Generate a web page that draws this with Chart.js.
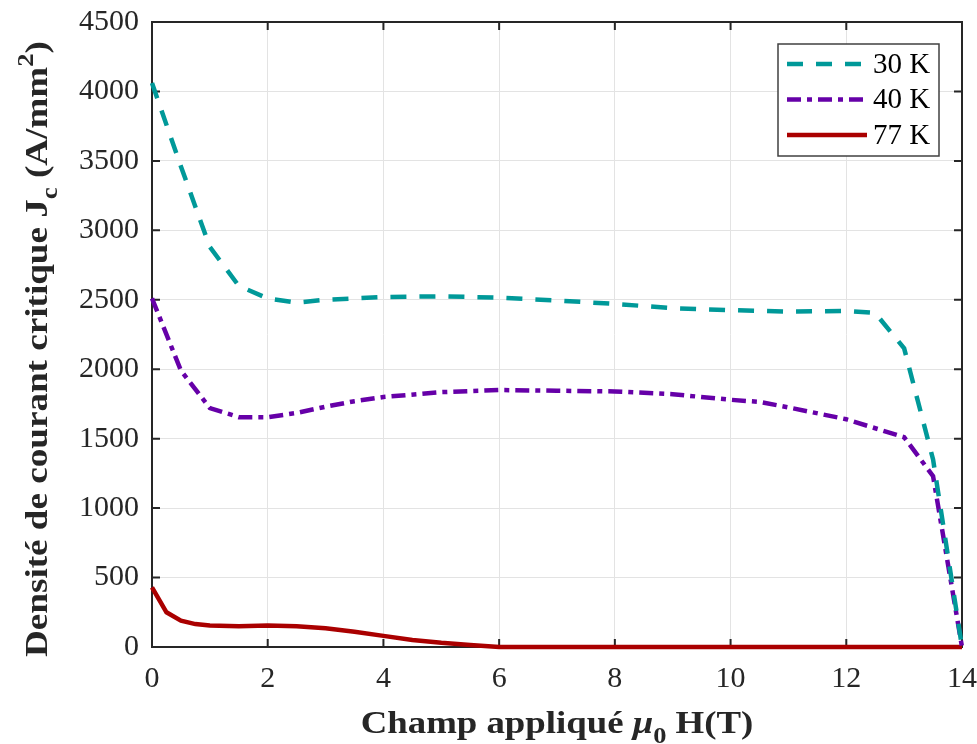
<!DOCTYPE html>
<html>
<head>
<meta charset="utf-8">
<script src="https://cdn.jsdelivr.net/npm/chart.js@4.4.1/dist/chart.umd.min.js"></script>
<style>
  html, body { margin: 0; padding: 0; background: #fff; }
  #wrap { width: 977px; height: 744px; }
</style>
</head>
<body>
<div id="wrap"><canvas id="myChart" width="977" height="744"></canvas></div>
<script>
// valeurs (champ en T, Jc en A/mm2)
const field30 = [0, 0.5, 1, 1.5, 2, 2.5, 3, 4, 5, 6, 7, 8, 9, 10, 11, 12, 12.5, 13, 13.5, 14];
const jc30 = [4060, 3460, 2880, 2600, 2510, 2480, 2500, 2520, 2525, 2515, 2495, 2470, 2440, 2425, 2415, 2420, 2405, 2150, 1350, 0];

const field40 = [0, 0.5, 1, 1.5, 2, 2.5, 3, 3.5, 4, 5, 6, 7, 8, 9, 10, 10.5, 11, 12, 13, 13.5, 14];
const jc40 = [2510, 1990, 1720, 1655, 1655, 1685, 1730, 1770, 1800, 1835, 1850, 1845, 1840, 1820, 1780, 1765, 1725, 1640, 1510, 1230, 0];

const field77 = [0, 0.25, 0.5, 0.75, 1, 1.5, 2, 2.5, 3, 3.5, 4, 4.5, 5, 5.5, 6, 8, 10, 12, 14];
const jc77 = [430, 250, 190, 165, 155, 150, 155, 150, 135, 110, 80, 50, 30, 15, 0, 0, 0, 0, 0];

const labels = ['30 K', '40 K', '77 K'];
const xTicks = [0, 2, 4, 6, 8, 10, 12, 14];
const yTicks = [0, 500, 1000, 1500, 2000, 2500, 3000, 3500, 4000, 4500];

const SERIF = "'Liberation Serif', 'Times New Roman', serif";
const AXIS_COL = '#262626';

function points(xs, ys) {
    return xs.map((x, i) => ({ x: x, y: ys[i] }));
}

// pas de marge automatique autour des axes : la zone de tracé est fixée par layout.padding
function noPad(s) {
    s.paddingTop = 0; s.paddingBottom = 0; s.paddingLeft = 0; s.paddingRight = 0;
}

// texte avec indices / exposants, étiré en largeur comme la figure d'origine
function drawParts(ctx, parts, cx, baseY, sx) {
    let total = 0;
    parts.forEach(p => { ctx.font = p.font; p.w = ctx.measureText(p.t).width; total += p.w; });
    ctx.save();
    ctx.translate(cx, baseY);
    ctx.scale(sx, 1);
    let x = -total / 2;
    ctx.textAlign = 'left';
    ctx.textBaseline = 'alphabetic';
    parts.forEach(p => {
        ctx.font = p.font;
        ctx.fillText(p.t, x, p.dy || 0);
        x += p.w;
    });
    ctx.restore();
}

const cadrePlugin = {
    id: 'cadre',
    beforeDatasetsDraw(chart) {
        const ctx = chart.ctx;
        const ca = chart.chartArea;
        const xs = chart.scales.x, ys = chart.scales.y;
        ctx.save();
        ctx.strokeStyle = AXIS_COL;
        ctx.lineWidth = 2;
        ctx.strokeRect(ca.left, ca.top, ca.right - ca.left, ca.bottom - ca.top);
        ctx.beginPath();
        xTicks.forEach(v => {
            const px = xs.getPixelForValue(v);
            ctx.moveTo(px, ca.bottom); ctx.lineTo(px, ca.bottom - 8);
            ctx.moveTo(px, ca.top); ctx.lineTo(px, ca.top + 8);
        });
        yTicks.forEach(v => {
            const py = ys.getPixelForValue(v);
            ctx.moveTo(ca.left, py); ctx.lineTo(ca.left + 8, py);
            ctx.moveTo(ca.right, py); ctx.lineTo(ca.right - 8, py);
        });
        ctx.stroke();
        ctx.restore();
    },
    afterDraw(chart) {
        const ctx = chart.ctx;
        const ca = chart.chartArea;
        ctx.save();
        ctx.fillStyle = AXIS_COL;

        const b = 'bold 32px ' + SERIF;
        const sub = 'bold 23px ' + SERIF;
        // titre axe x
        drawParts(ctx, [
            { t: 'Champ appliqué ', font: b },
            { t: 'μ', font: 'italic bold 32px ' + SERIF },
            { t: '0', font: sub, dy: 10 },
            { t: ' H(T)', font: b }
        ], (ca.left + ca.right) / 2, 733, 1.15);

        // titre axe y
        ctx.save();
        ctx.translate(47, 349);
        ctx.rotate(-Math.PI / 2);
        drawParts(ctx, [
            { t: 'Densité de courant critique J', font: b },
            { t: 'c', font: sub, dy: 10 },
            { t: ' (A/mm', font: b },
            { t: '2', font: sub, dy: -14 },
            { t: ')', font: b }
        ], 0, 0, 1.16);
        ctx.restore();

        // légende
        const x0 = ca.right - 184, y0 = ca.top + 22, w = 161, h = 112;
        ctx.fillStyle = '#fff';
        ctx.fillRect(x0, y0, w, h);
        ctx.strokeStyle = '#404040';
        ctx.lineWidth = 1.5;
        ctx.strokeRect(x0, y0, w, h);
        chart.data.datasets.forEach((ds, i) => {
            const yy = y0 + 20 + i * 35.5;
            ctx.beginPath();
            ctx.strokeStyle = ds.borderColor;
            ctx.lineWidth = ds.borderWidth;
            ctx.setLineDash(ds.borderDash || []);
            ctx.moveTo(x0 + 9, yy);
            ctx.lineTo(x0 + 89, yy);
            ctx.stroke();
            ctx.setLineDash([]);
            ctx.fillStyle = '#000';
            ctx.font = '29px ' + SERIF;
            ctx.textAlign = 'left';
            ctx.textBaseline = 'middle';
            ctx.fillText(ds.label, x0 + 95, yy + 1);
        });
        ctx.restore();
    }
};

const ctx = document.getElementById('myChart').getContext('2d');
new Chart(ctx, {
    type: 'line',
    data: {
        datasets: [
            { label: labels[0], data: points(field30, jc30), borderColor: '#009999', borderWidth: 4.5, borderDash: [16, 13] },
            { label: labels[1], data: points(field40, jc40), borderColor: '#6600A8', borderWidth: 4.5, borderDash: [14, 6, 5, 6] },
            { label: labels[2], data: points(field77, jc77), borderColor: '#AA0000', borderWidth: 4.5 }
        ]
    },
    options: {
        responsive: false,
        animation: false,
        clip: false,
        layout: { autoPadding: false, padding: { top: 22, right: 15, left: 0, bottom: 0 } },
        elements: { point: { radius: 0 }, line: { tension: 0, borderCapStyle: 'butt' } },
        plugins: { legend: { display: false }, tooltip: { enabled: false } },
        scales: {
            x: {
                type: 'linear', min: 0, max: 14,
                afterBuildTicks: s => { s.ticks = xTicks.map(v => ({ value: v })); },
                afterFit: s => { s.height = 97; noPad(s); },
                grid: { color: '#e3e3e3', lineWidth: 1, drawTicks: false },
                border: { display: false },
                ticks: { padding: 14, color: AXIS_COL, font: { family: SERIF, size: 30 }, callback: v => String(v) }
            },
            y: {
                type: 'linear', min: 0, max: 4500,
                afterBuildTicks: s => { s.ticks = yTicks.map(v => ({ value: v })); },
                afterFit: s => { s.width = 152; noPad(s); },
                grid: { color: '#e3e3e3', lineWidth: 1, drawTicks: false },
                border: { display: false },
                ticks: { padding: 13, color: AXIS_COL, font: { family: SERIF, size: 30 }, callback: v => String(v) }
            }
        }
    },
    plugins: [cadrePlugin]
});
</script>
</body>
</html>
